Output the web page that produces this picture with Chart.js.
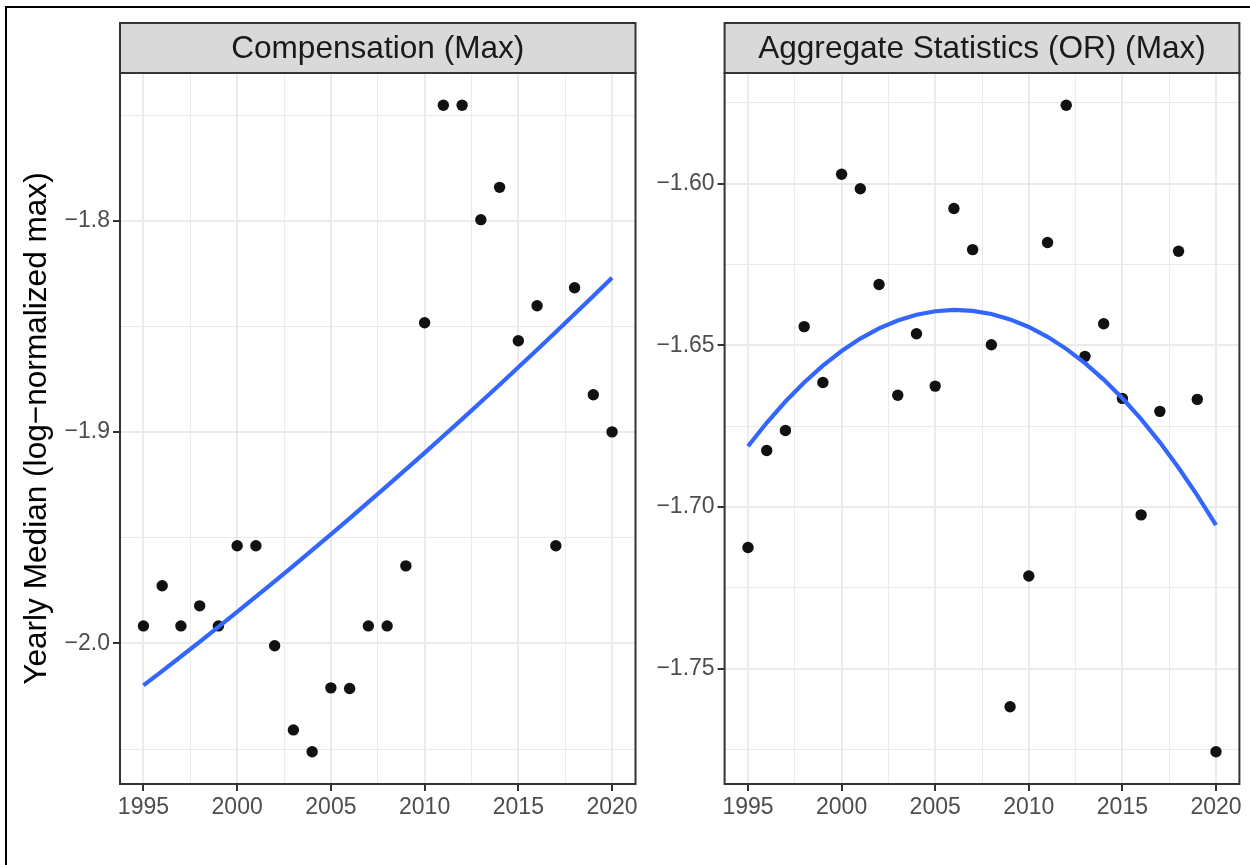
<!DOCTYPE html>
<html>
<head>
<meta charset="utf-8">
<script src="https://cdn.jsdelivr.net/npm/chart.js@4.4.1/dist/chart.umd.min.js"></script>
<style>
    html, body { margin: 0; padding: 0; background: #fff; overflow: hidden; }
    #frame { position: absolute; left: 5px; top: 6px; width: 1300px; height: 900px; border-left: 2px solid #000; border-top: 2px solid #000; }
    canvas { position: absolute; top: 0; }
    #compChart { left: 0; }
    #aggChart { left: 640px; }
</style>
</head>
<body>
<div id="frame"></div>
<canvas id="compChart" width="660" height="865"></canvas>
<canvas id="aggChart" width="610" height="865"></canvas>
<script>
// Yearly values per facet
const years = [1995, 1996, 1997, 1998, 1999, 2000, 2001, 2002, 2003, 2004, 2005, 2006, 2007,
               2008, 2009, 2010, 2011, 2012, 2013, 2014, 2015, 2016, 2017, 2018, 2019, 2020];
const compMax = [-1.9917, -1.9727, -1.9917, -1.9822, -1.9917, -1.9538, -1.9538, -2.0011, -2.0409,
                 -2.0512, -2.0210, -2.0213, -1.9917, -1.9917, -1.9633, -1.8483, -1.7454, -1.7454,
                 -1.7995, -1.7842, -1.8568, -1.8402, -1.9538, -1.8317, -1.8823, -1.8999];
const aggMax = [-1.7125, -1.6825, -1.6763, -1.6442, -1.6615, -1.5971, -1.6016, -1.6312, -1.6654,
                -1.6464, -1.6626, -1.6077, -1.6204, -1.6498, -1.7617, -1.7213, -1.6182, -1.5758,
                -1.6534, -1.6433, -1.6664, -1.7024, -1.6704, -1.6209, -1.6667, -1.7756];

// Axis breaks and labels
const xMajor = [1995, 2000, 2005, 2010, 2015, 2020];
const xMinor = [1997.5, 2002.5, 2007.5, 2012.5, 2017.5];
const xLabels = ['1995', '2000', '2005', '2010', '2015', '2020'];
const compYMajor = [-2.0, -1.9, -1.8];
const compYMinor = [-2.05, -1.95, -1.85, -1.75];
const compYLabels = ['\u22122.0', '\u22121.9', '\u22121.8'];
const aggYMajor = [-1.75, -1.70, -1.65, -1.60];
const aggYMinor = [-1.775, -1.725, -1.675, -1.625, -1.575];
const aggYLabels = ['\u22121.75', '\u22121.70', '\u22121.65', '\u22121.60'];

Chart.defaults.font.family = '"Liberation Sans", Arial, Helvetica, sans-serif';

// ggplot-style range: data span plus 5% each side
const expand = (vals) => {
    const lo = Math.min(...vals), hi = Math.max(...vals), r = hi - lo;
    return { min: lo - 0.05 * r, max: hi + 0.05 * r };
};

// Least-squares fit y ~ poly(x, 2), evaluated at the observed x
const quadFit = (xs, ys) => {
    const n = xs.length;
    const mx = xs.reduce((a, b) => a + b, 0) / n;
    const s = [0, 0, 0, 0, 0], t = [0, 0, 0];
    xs.forEach((x, i) => {
        const u = x - mx;
        let p = 1;
        for (let k = 0; k < 5; k++) {
            s[k] += p;
            if (k < 3) t[k] += p * ys[i];
            p *= u;
        }
    });
    const A = [[s[0], s[1], s[2]], [s[1], s[2], s[3]], [s[2], s[3], s[4]]];
    const det = m => m[0][0] * (m[1][1] * m[2][2] - m[1][2] * m[2][1])
                   - m[0][1] * (m[1][0] * m[2][2] - m[1][2] * m[2][0])
                   + m[0][2] * (m[1][0] * m[2][1] - m[1][1] * m[2][0]);
    const d = det(A);
    const coef = [0, 1, 2].map(c => det(A.map((row, r) => row.map((v, j) => (j === c ? t[r] : v)))) / d);
    return xs.map(x => {
        const u = x - mx;
        return { x, y: coef[0] + coef[1] * u + coef[2] * u * u };
    });
};

const near = (list, v) => list.findIndex(m => Math.abs(m - v) < 1e-9);

// Linear scale with major + minor grid lines, ticks only on majors
const gridScale = (major, minor, labels, range, extra) => {
    const all = major.concat(minor).sort((a, b) => a - b);
    return Object.assign({
        type: 'linear',
        min: range.min,
        max: range.max,
        afterBuildTicks: s => { s.ticks = all.map(v => ({ value: v })); },
        ticks: {
            autoSkip: false,
            maxRotation: 0,
            color: '#4d4d4d',
            font: { size: 23 },
            callback: v => { const i = near(major, v); return i < 0 ? '' : labels[i]; }
        },
        grid: {
            color: '#ebebeb',
            lineWidth: c => (c.tick && near(major, c.tick.value) >= 0 ? 2 : 1),
            tickColor: c => (c.tick && near(major, c.tick.value) >= 0 ? '#333333' : 'rgba(0,0,0,0)'),
            tickLength: 7,
            tickWidth: 2
        },
        border: { display: false }
    }, extra);
};

// Facet strip on top and dark frame round the panel
const facetStrip = {
    id: 'facetStrip',
    afterDraw(chart, args, opts) {
        const { ctx, chartArea: a } = chart;
        const h = 50;
        ctx.save();
        ctx.strokeStyle = '#333333';
        ctx.lineWidth = 2;
        ctx.strokeRect(a.left, a.top, a.right - a.left, a.bottom - a.top);
        ctx.fillStyle = '#d9d9d9';
        ctx.fillRect(a.left, a.top - h, a.right - a.left, h);
        ctx.strokeRect(a.left, a.top - h, a.right - a.left, h);
        ctx.fillStyle = '#1a1a1a';
        ctx.font = '31.6px "Liberation Sans", Arial, Helvetica, sans-serif';
        ctx.textAlign = 'center';
        ctx.textBaseline = 'middle';
        ctx.fillText(opts.text, (a.left + a.right) / 2, a.top - h / 2 + 1);
        ctx.restore();
    }
};

const makePanel = (el, values, yMajor, yMinor, yLabels, strip, yAxisWidth, padRight, yTitle) => {
    const xs = years;
    new Chart(document.getElementById(el), {
        type: 'scatter',
        data: {
            datasets: [
                {
                    data: quadFit(xs, values),
                    showLine: true,
                    borderColor: '#3366ff',
                    borderWidth: 4.2,
                    pointRadius: 0,
                    tension: 0
                },
                {
                    data: xs.map((x, i) => ({ x, y: values[i] })),
                    backgroundColor: '#111111',
                    borderWidth: 0,
                    pointRadius: 5.7
                }
            ]
        },
        options: {
            responsive: false,
            animation: false,
            events: [],
            layout: { padding: { left: 0, top: 73, right: padRight, bottom: 0 } },
            plugins: {
                legend: { display: false },
                tooltip: { enabled: false },
                facetStrip: { text: strip }
            },
            scales: {
                x: gridScale(xMajor, xMinor, xLabels, expand(xs), {
                    afterFit: s => { s.height = 81; }
                }),
                y: gridScale(yMajor, yMinor, yLabels, expand(values), {
                    afterFit: s => { s.width = yAxisWidth; },
                    title: yTitle ? {
                        display: true,
                        text: yTitle,
                        color: '#000000',
                        font: { size: 31.6 },
                        padding: { top: 18, bottom: 0 }
                    } : { display: false }
                })
            }
        },
        plugins: [facetStrip]
    });
};

makePanel('compChart', compMax, compYMajor, compYMinor, compYLabels,
          'Compensation (Max)', 120, 24.5, 'Yearly Median (log\u2212normalized max)');
makePanel('aggChart', aggMax, aggYMajor, aggYMinor, aggYLabels,
          'Aggregate Statistics (OR) (Max)', 84.6, 10.6, null);
</script>
</body>
</html>
